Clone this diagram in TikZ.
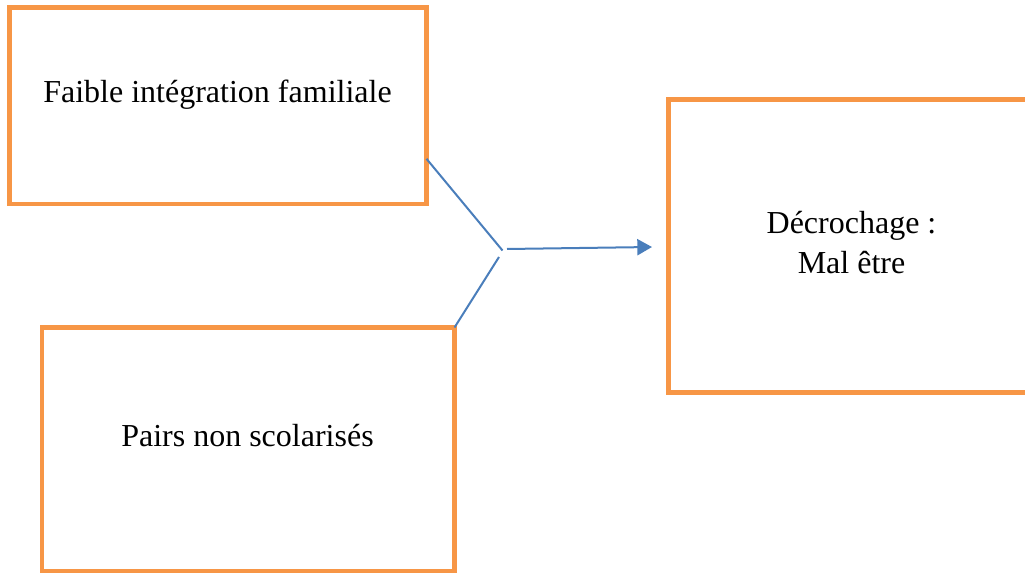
\documentclass[tikz,border=0pt]{standalone}
\usepackage{fontspec}
\setmainfont{Liberation Serif}
\usetikzlibrary{arrows.meta,calc}
\definecolor{boxorange}{HTML}{F79646}
\definecolor{linkblue}{HTML}{4A7EBB}
\tikzset{
  factor/.style={draw=boxorange, line width=3.4pt, fill=none, inner sep=0pt},
  link/.style={draw=linkblue, line width=1.5pt},
  label/.style={font=\fontsize{24}{30}\selectfont, inner sep=0pt, align=center}
}
\begin{document}
\begin{tikzpicture}[x=0.75pt, y=-0.75pt]
  \useasboundingbox (0,0) rectangle (1025,574);
  \clip (0,0) rectangle (1025,574);
  % boxes
  \draw[factor] (9.5,7.5) rectangle (426.5,204) coordinate (b1se);
  \coordinate (b1ne) at (426.5,7.5);
  \draw[factor] (42,327.5) rectangle (454.5,571);
  \coordinate (b2ne) at (454.5,327.5);
  \draw[factor] (668.5,99.5) rectangle (1040,392.5);
  % texts
  \node[label, anchor=base] (t1) at (217.5,102.5) {Faible intégration familiale};
  \node[label, anchor=base] (t2) at (247.5,446) {Pairs non scolarisés};
  \node[label, anchor=base] (t3) at (851.5,273) {Décrochage :\\ Mal être};
  % connectors
  \coordinate (u1) at ($(b1ne)!0.77!(b1se)$);
  \coordinate (u2) at (502.5,250.5);
  \coordinate (l1) at (b2ne);
  \coordinate (l2) at (499,257);
  \coordinate (a1) at (507,249);
  \coordinate (a2) at (652,247);
  \draw[link] (u1) -- (u2);
  \draw[link] (l1) -- (l2);
  \draw[link, -{Triangle[length=11pt,width=12pt]}] (a1) -- (a2);
\end{tikzpicture}
\end{document}
